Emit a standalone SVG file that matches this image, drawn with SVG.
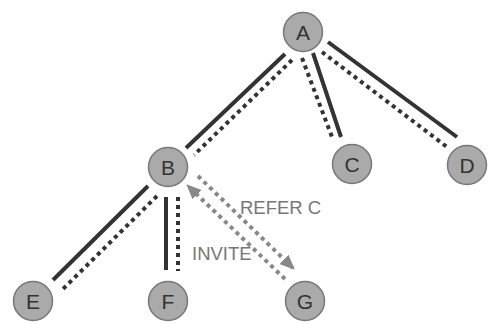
<svg xmlns="http://www.w3.org/2000/svg" width="492" height="324" viewBox="0 0 492 324">
  <style>
    .solid { stroke: #333; stroke-width: 4; fill: none; }
    .dot { stroke: #333; stroke-width: 4; stroke-dasharray: 4 4; fill: none; }
    .msg { stroke: #888; stroke-width: 4; stroke-dasharray: 4 4; fill: none; }
    .node circle { fill: #aaa; stroke: #777; stroke-width: 1.5; }
    .node text { font-family: "Liberation Sans", Arial, sans-serif; font-size: 21px; fill: #333; text-anchor: middle; }
    .label { font-family: "Liberation Sans", Arial, sans-serif; font-size: 18.5px; fill: #777; }
  </style>
  <defs>
    <marker id="arrow" viewBox="0 0 15 13" refX="14" refY="6.5" markerWidth="15" markerHeight="13" markerUnits="userSpaceOnUse" orient="auto">
      <path d="M0,0 L15,6.5 L0,13 Z" fill="#888"/>
    </marker>
  </defs>

  <g id="connectors">
    <!-- A to B -->
    <line class="solid" x1="285" y1="54" x2="186" y2="148"/>
    <line class="dot" x1="292" y1="60" x2="194" y2="155"/>
    <!-- A to C -->
    <line class="dot" x1="302" y1="58" x2="332" y2="137"/>
    <line class="solid" x1="313" y1="53" x2="341" y2="137"/>
    <!-- A to D -->
    <line class="dot" x1="322" y1="52" x2="447" y2="147"/>
    <line class="solid" x1="328" y1="42" x2="457" y2="137"/>
    <!-- B to E -->
    <line class="solid" x1="148" y1="186" x2="53" y2="280"/>
    <line class="dot" x1="157" y1="196" x2="62" y2="290"/>
    <!-- B to F -->
    <line class="solid" x1="166" y1="197" x2="166" y2="270"/>
    <line class="dot" x1="178" y1="197" x2="178" y2="271"/>
    <!-- B and G messages -->
    <line class="msg" x1="198" y1="176" x2="294" y2="269" marker-end="url(#arrow)"/>
    <line class="msg" x1="285" y1="279" x2="187" y2="185" marker-end="url(#arrow)"/>
  </g>

  <text class="label" x="240" y="214">REFER C</text>
  <text class="label" x="192" y="260">INVITE</text>

  <g id="node-A" class="node"><circle cx="303" cy="32" r="19.5"/><text x="303" y="39.5">A</text></g>
  <g id="node-B" class="node"><circle cx="168" cy="167" r="19.5"/><text x="168" y="174.5">B</text></g>
  <g id="node-C" class="node"><circle cx="352" cy="164" r="19.5"/><text x="352" y="171.5">C</text></g>
  <g id="node-D" class="node"><circle cx="467" cy="165" r="19.5"/><text x="467" y="172.5">D</text></g>
  <g id="node-E" class="node"><circle cx="33" cy="301" r="19.5"/><text x="33" y="308.5">E</text></g>
  <g id="node-F" class="node"><circle cx="168" cy="301" r="19.5"/><text x="168" y="308.5">F</text></g>
  <g id="node-G" class="node"><circle cx="305" cy="301" r="19.5"/><text x="305" y="308.5">G</text></g>
</svg>
